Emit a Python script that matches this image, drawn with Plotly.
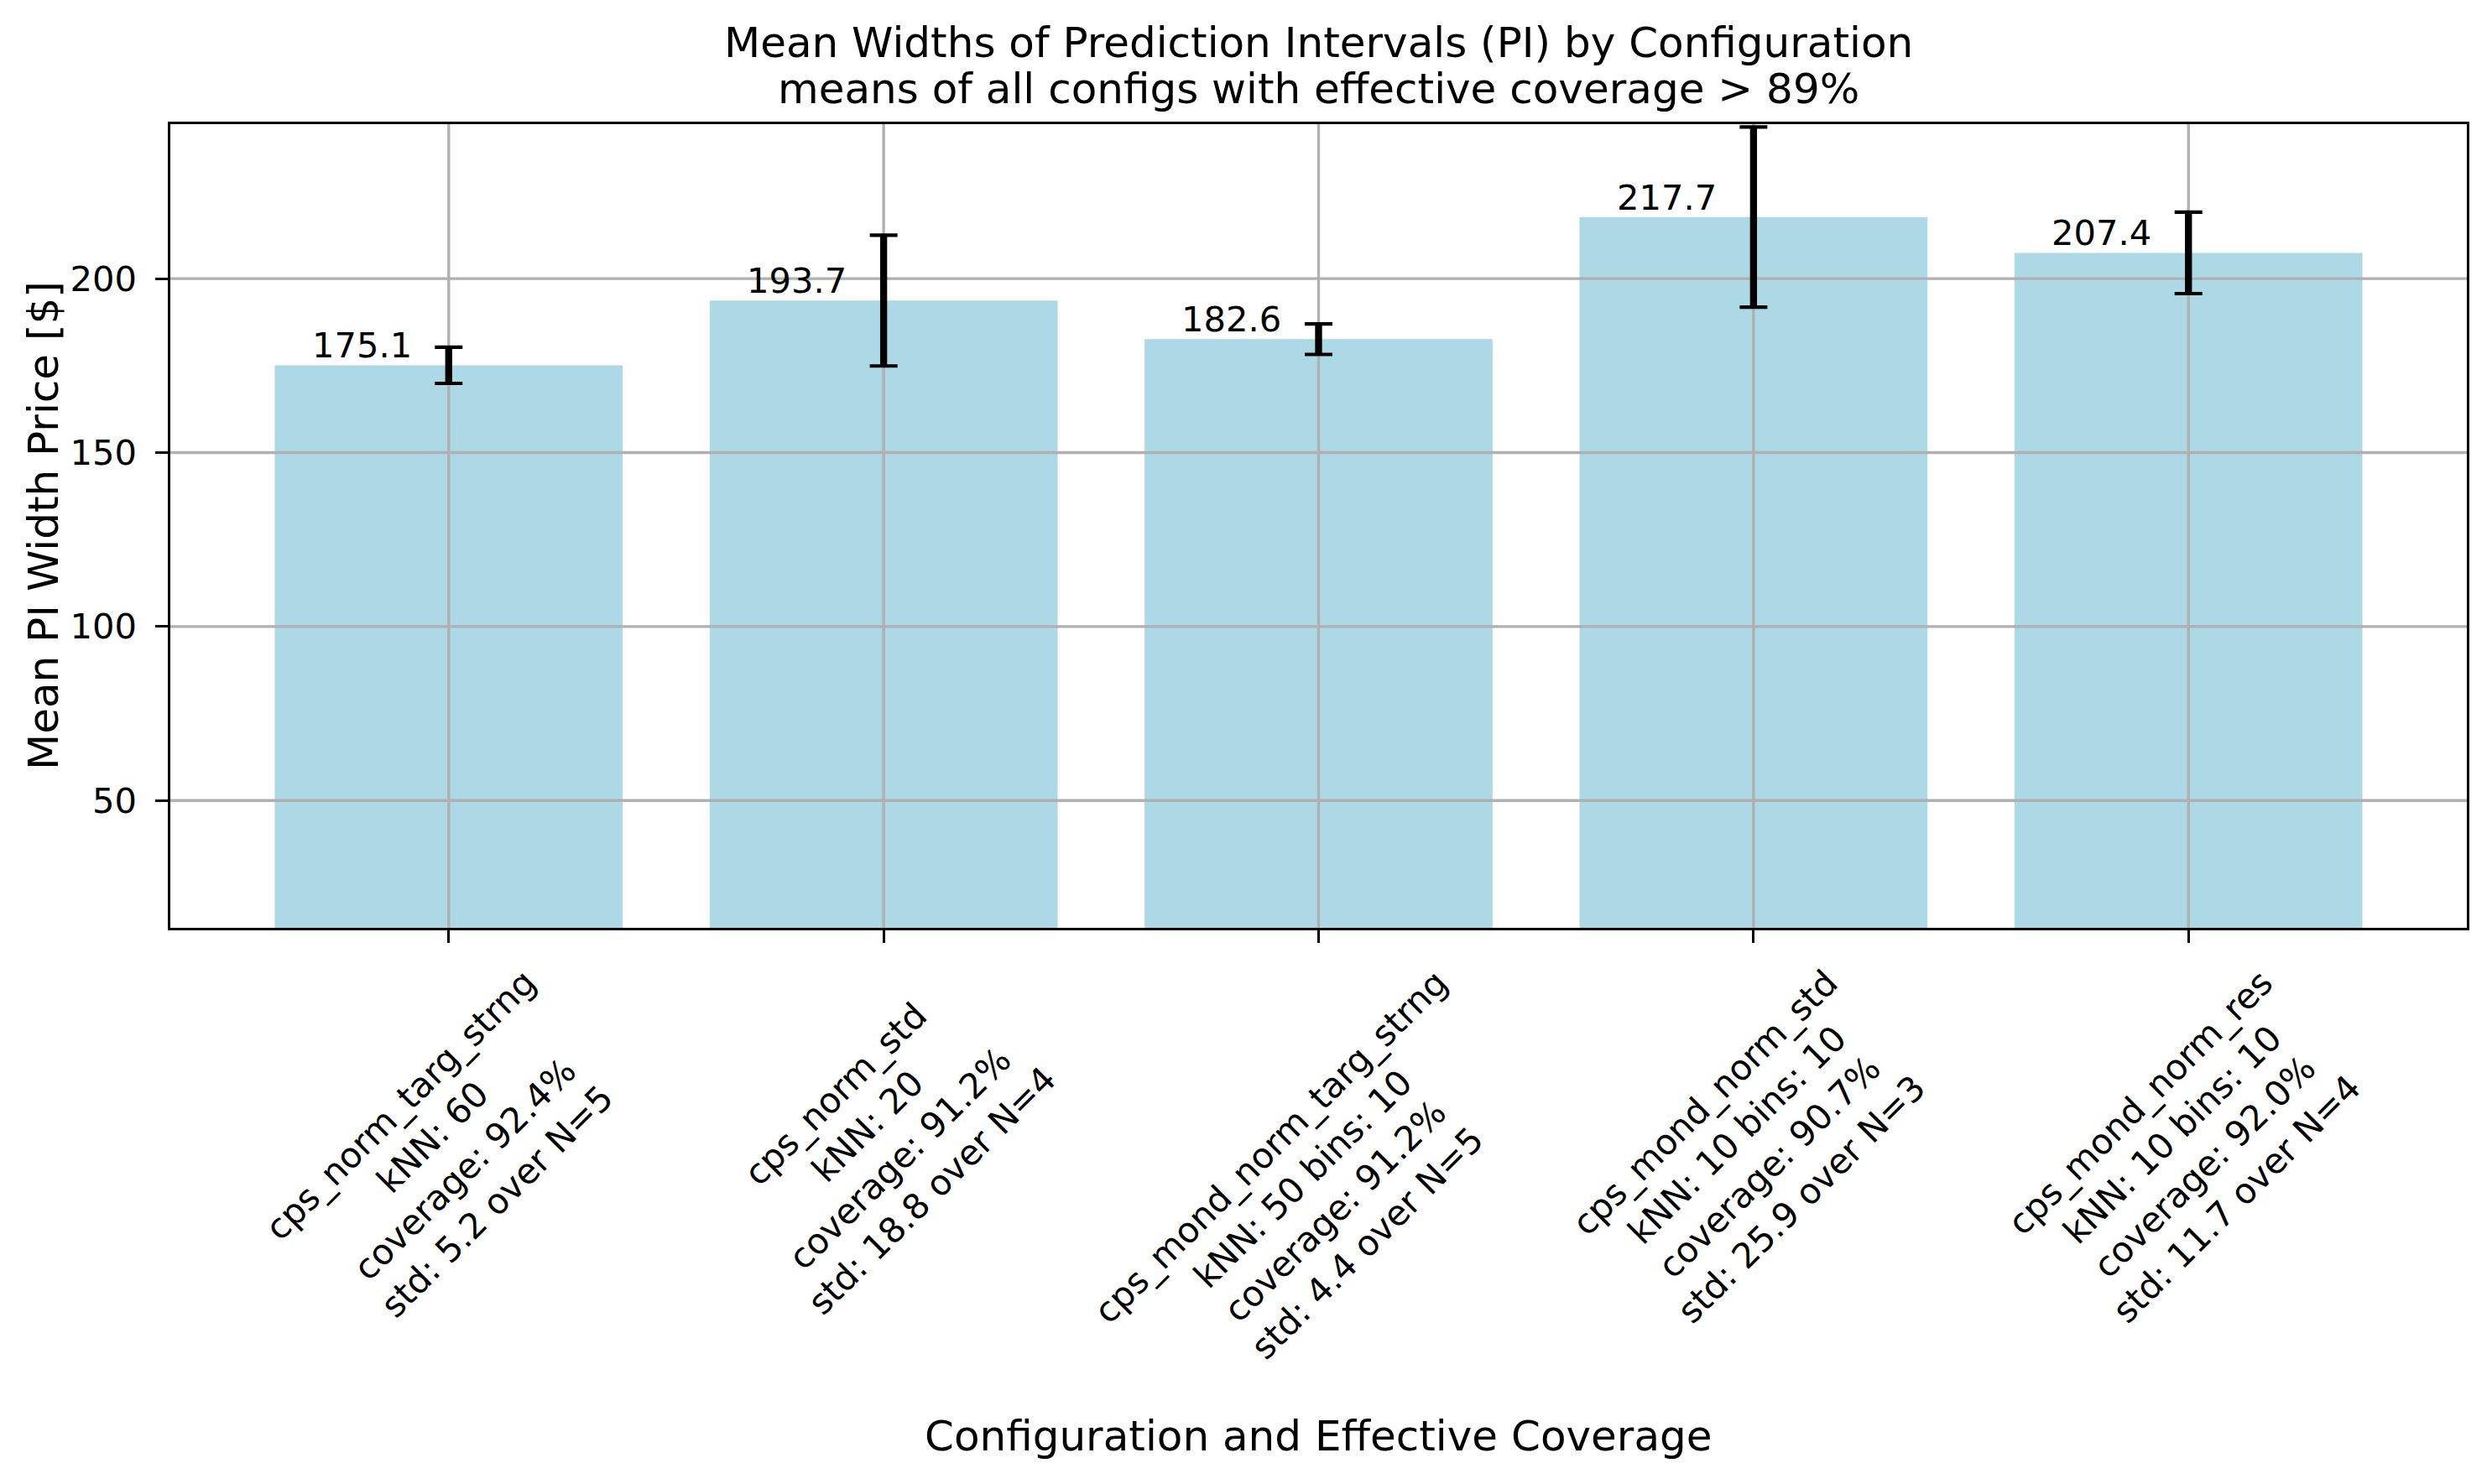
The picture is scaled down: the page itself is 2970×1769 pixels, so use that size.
import plotly.graph_objects as go

# data
configs = ['cps_norm_targ_strng', 'cps_norm_std', 'cps_mond_norm_targ_strng',
           'cps_mond_norm_std', 'cps_mond_norm_res']
knn_info = ['kNN: 60', 'kNN: 20', 'kNN: 50 bins: 10', 'kNN: 10 bins: 10', 'kNN: 10 bins: 10']
coverage = [92.4, 91.2, 91.2, 90.7, 92.0]
mean_width = [175.1, 193.7, 182.6, 217.7, 207.4]
std_width = [5.2, 18.8, 4.4, 25.9, 11.7]
n_runs = [5, 4, 5, 3, 4]
y_ticks = [50, 100, 150, 200]

FONT = 'DejaVu Sans'
PT = 300 / 72  # matplotlib points -> px at 300 dpi
GRID = '#b0b0b0'
BAR = '#add8e6'

xpos = list(range(len(configs)))
tick_text = [f'{c}<br>{k}<br>coverage: {cv:.1f}%<br>std: {s:.1f} over N={n}'
             for c, k, cv, s, n in zip(configs, knn_info, coverage, std_width, n_runs)]

fig = go.Figure()

fig.add_trace(go.Bar(x=xpos, y=mean_width, width=0.8, marker=dict(color=BAR, line=dict(width=0)),
                     showlegend=False, hoverinfo='skip'))

# grid drawn above the bars like matplotlib does
gx, gy = [], []
for t in y_ticks:
    gx += [-2, len(configs) + 2, None]
    gy += [t, t, None]
for p in xpos:
    gx += [p, p, None]
    gy += [-100, 400, None]
fig.add_trace(go.Scatter(x=gx, y=gy, mode='lines', line=dict(color=GRID, width=0.8 * PT),
                         showlegend=False, hoverinfo='skip'))

# error bars: thin caps + thick stem
fig.add_trace(go.Scatter(x=xpos, y=mean_width, mode='markers', marker=dict(size=1, color='rgba(0,0,0,0)'),
                         error_y=dict(type='data', array=std_width, color='black', thickness=1 * PT, width=16.5),
                         showlegend=False, hoverinfo='skip'))
fig.add_trace(go.Scatter(x=xpos, y=mean_width, mode='markers', marker=dict(size=1, color='rgba(0,0,0,0)'),
                         error_y=dict(type='data', array=std_width, color='black', thickness=2 * PT, width=0),
                         showlegend=False, hoverinfo='skip'))

ann = []
# value labels
for p, m in zip(xpos, mean_width):
    ann.append(dict(x=p - 0.2, y=m, xref='x', yref='y', text=f'{m:.1f}', showarrow=False,
                    xanchor='center', yanchor='bottom', yshift=-3,
                    font=dict(family=FONT, size=10 * PT, color='black')))
# rotated tick labels
for p, t in zip(xpos, tick_text):
    ann.append(dict(x=p, y=0, xref='x', yref='paper', text=t, showarrow=False, textangle=-45,
                    xanchor='center', yanchor='top', yshift=-38, align='center',
                    font=dict(family=FONT, size=10 * PT, color='black')))
# titles
ann.append(dict(x=0.5, y=1, xref='paper', yref='paper', yshift=97, xanchor='center', yanchor='middle',
                text='Mean Widths of Prediction Intervals (PI) by Configuration', showarrow=False,
                font=dict(family=FONT, size=12 * PT, color='black')))
ann.append(dict(x=0.5, y=1, xref='paper', yref='paper', yshift=42, xanchor='center', yanchor='middle',
                text='means of all configs with effective coverage &gt; 89%', showarrow=False,
                font=dict(family=FONT, size=12 * PT, color='black')))
ann.append(dict(x=0.5, y=0, xref='paper', yref='paper', yshift=-606, xanchor='center', yanchor='middle',
                text='Configuration and Effective Coverage', showarrow=False,
                font=dict(family=FONT, size=12 * PT, color='black')))
ann.append(dict(x=0, y=0.5, xref='paper', yref='paper', xshift=-151, xanchor='center', yanchor='middle',
                text='Mean PI Width Price [$]', showarrow=False, textangle=-90,
                font=dict(family=FONT, size=12 * PT, color='black')))

# margins compensate the 8px page offset of the html body
fig.update_layout(
    width=2970, height=1769,
    margin=dict(l=195, r=38, t=140, b=671),
    paper_bgcolor='white', plot_bgcolor='white',
    font=dict(family=FONT, size=10 * PT, color='black'),
    annotations=ann,
    showlegend=False,
)
fig.update_xaxes(range=[-0.64, len(configs) - 1 + 0.64], tickvals=xpos, showticklabels=False,
                 ticks='outside', ticklen=3.5 * PT, tickwidth=0.8 * PT, tickcolor='black',
                 showline=True, linecolor='black', linewidth=0.8 * PT, mirror=True,
                 showgrid=False, zeroline=False, layer='above traces')
fig.update_yaxes(range=[13.4, 244.4], tickvals=y_ticks,
                 ticks='outside', ticklen=3.5 * PT, tickwidth=0.8 * PT, tickcolor='black',
                 tickfont=dict(family=FONT, size=10 * PT, color='black'), ticklabelstandoff=14,
                 showline=True, linecolor='black', linewidth=0.8 * PT, mirror=True,
                 showgrid=False, zeroline=False, layer='above traces')

fig.write_html('out.html')
